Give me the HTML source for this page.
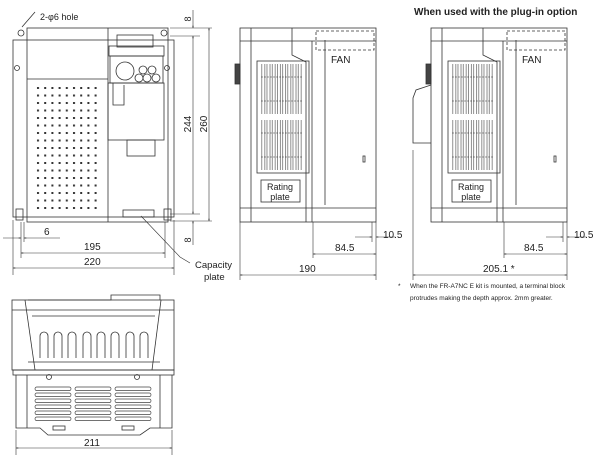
<!DOCTYPE html>
<html><head><meta charset="utf-8"><style>
html,body{margin:0;padding:0;background:#fff;}
svg{display:block;font-family:"Liberation Sans",Arial,sans-serif;}
text{fill:#222;}
</style></head><body>
<svg width="600" height="456" viewBox="0 0 600 456" xmlns="http://www.w3.org/2000/svg">
<defs>
<pattern id="dots" x="36" y="86" width="7.2" height="7.5" patternUnits="userSpaceOnUse"><rect x="1" y="1" width="2" height="2" fill="#333"/></pattern>
<pattern id="vent" x="261" y="0" width="5.2" height="200" patternUnits="userSpaceOnUse"><rect x="0.8" y="0" width="3" height="200" fill="none" stroke="#444" stroke-width="0.6"/></pattern>
<marker id="ar" viewBox="0 0 10 10" refX="10" refY="5" markerWidth="6" markerHeight="4" orient="auto-start-reverse"><path d="M0,1 L10,5 L0,9" fill="none" stroke="#333" stroke-width="1.2"/></marker>
<g id="lv" fill="none" stroke="#444" stroke-width="0.7">
<rect x="0" y="0" width="36" height="3.6" rx="1.8"/><rect x="0" y="6" width="36" height="3.6" rx="1.8"/><rect x="0" y="12" width="36" height="3.6" rx="1.8"/><rect x="0" y="18" width="36" height="3.6" rx="1.8"/><rect x="0" y="24" width="36" height="3.6" rx="1.8"/><rect x="0" y="30" width="36" height="3.6" rx="1.8"/>
</g>
</defs>
<g fill="none" stroke="#333" stroke-width="0.8">
<!-- FRONT VIEW -->
<rect x="13" y="40" width="161" height="177"/>
<rect x="27" y="28" width="141" height="194"/>
<line x1="108" y1="28" x2="108" y2="222"/>
<line x1="27" y1="79" x2="108" y2="79"/>
<rect x="35" y="85" width="66" height="128" fill="url(#dots)" stroke="none"/>
<rect x="117" y="35" width="36" height="12"/>
<rect x="109" y="46" width="55" height="10"/>
<rect x="110" y="56" width="53" height="27"/>
<circle cx="125" cy="71" r="9"/>
<circle cx="143" cy="70" r="4"/><circle cx="152" cy="70" r="4"/><circle cx="139" cy="78" r="4"/><circle cx="147" cy="78" r="4"/><circle cx="156" cy="78" r="4"/>
<rect x="108" y="83" width="56" height="57"/>
<polyline points="113,83 113,105 124,105 124,85"/>
<rect x="127" y="140" width="28" height="16"/>
<rect x="123" y="210" width="31" height="7"/>
<circle cx="21" cy="33" r="3"/><circle cx="164" cy="33" r="3"/>
<circle cx="17" cy="68" r="2.5"/><circle cx="167" cy="68" r="2.5"/>
<rect x="16" y="209" width="7" height="11"/><rect x="164" y="209" width="7" height="11"/>
<line x1="22" y1="27" x2="35" y2="12"/>
<g stroke-width="0.6">
<line x1="170" y1="28" x2="212" y2="28"/><line x1="170" y1="36" x2="200" y2="36"/>
<line x1="170" y1="214" x2="200" y2="214"/><line x1="170" y1="221" x2="212" y2="221"/>
<line x1="193" y1="10" x2="193" y2="28" marker-end="url(#ar)"/>
<line x1="193" y1="36" x2="193" y2="214" marker-start="url(#ar)" marker-end="url(#ar)"/>
<line x1="193" y1="221" x2="193" y2="245" marker-start="url(#ar)"/>
<line x1="209" y1="28" x2="209" y2="221" marker-start="url(#ar)" marker-end="url(#ar)"/>
<line x1="13" y1="220" x2="13" y2="275"/><line x1="174" y1="220" x2="174" y2="275"/>
<line x1="21" y1="222" x2="21" y2="258"/><line x1="24" y1="222" x2="24" y2="242"/><line x1="165" y1="222" x2="165" y2="258"/>
<line x1="3" y1="238" x2="21" y2="238" marker-end="url(#ar)"/><line x1="24" y1="238" x2="60" y2="238" marker-start="url(#ar)"/>
<line x1="21" y1="253" x2="165" y2="253" marker-start="url(#ar)" marker-end="url(#ar)"/>
<line x1="13" y1="268" x2="174" y2="268" marker-start="url(#ar)" marker-end="url(#ar)"/>
<polyline points="141,216 180,257 190,263"/>
</g>
<!-- SIDE VIEW 1 -->
<g id="side">
<rect x="240" y="28" width="136" height="194"/>
<line x1="251" y1="28" x2="251" y2="222"/>
<line x1="240" y1="41" x2="376" y2="41"/>
<line x1="240" y1="208" x2="376" y2="208"/>
<line x1="312" y1="41" x2="312" y2="222"/>
<polyline points="292,28 292,55 306,62 306,222"/>
<line x1="325" y1="40" x2="325" y2="205"/>
<rect x="257" y="61" width="52" height="112"/>
<rect x="261" y="64" width="42" height="50" fill="url(#vent)" stroke="none"/>
<rect x="261" y="120" width="42" height="50" fill="url(#vent)" stroke="none"/>
<line x1="261" y1="77" x2="303" y2="77" stroke-dasharray="2,1" stroke-width="0.6"/>
<line x1="261" y1="101" x2="303" y2="101" stroke-dasharray="2,1" stroke-width="0.6"/>
<line x1="261" y1="133" x2="303" y2="133" stroke-dasharray="2,1" stroke-width="0.6"/>
<line x1="261" y1="157" x2="303" y2="157" stroke-dasharray="2,1" stroke-width="0.6"/>
<rect x="261" y="180" width="39" height="22"/>
<rect x="316" y="31" width="58" height="19" stroke-dasharray="3,2"/>
<rect x="235" y="64" width="5" height="20" fill="#444"/>
<rect x="363" y="156" width="2" height="6"/>
</g>
<use href="#side" transform="translate(191,0)"/>
<polyline points="431,85 416,90 413,98 413,143 431,143"/>
<g stroke-width="0.6">
<line x1="240" y1="222" x2="240" y2="280"/><line x1="376" y1="222" x2="376" y2="280"/>
<line x1="313" y1="222" x2="313" y2="258"/><line x1="372" y1="222" x2="372" y2="242"/>
<line x1="355" y1="237" x2="372" y2="237" marker-end="url(#ar)"/><line x1="376" y1="237" x2="395" y2="237" marker-start="url(#ar)"/>
<line x1="313" y1="254" x2="376" y2="254" marker-start="url(#ar)" marker-end="url(#ar)"/>
<line x1="240" y1="275" x2="376" y2="275" marker-start="url(#ar)" marker-end="url(#ar)"/>
<line x1="413" y1="150" x2="413" y2="280"/><line x1="567" y1="222" x2="567" y2="280"/>
<line x1="504" y1="222" x2="504" y2="258"/><line x1="563" y1="222" x2="563" y2="242"/>
<line x1="546" y1="237" x2="563" y2="237" marker-end="url(#ar)"/><line x1="567" y1="237" x2="586" y2="237" marker-start="url(#ar)"/>
<line x1="504" y1="254" x2="567" y2="254" marker-start="url(#ar)" marker-end="url(#ar)"/>
<line x1="413" y1="275" x2="567" y2="275" marker-start="url(#ar)" marker-end="url(#ar)"/>
</g>
<!-- BOTTOM VIEW -->
<polyline points="28,300 111,300 111,295 160,295 160,300"/>
<rect x="12" y="300" width="162" height="70"/>
<line x1="12" y1="310" x2="174" y2="310"/>
<line x1="32" y1="316" x2="155" y2="316"/>
<line x1="25" y1="300" x2="35" y2="370"/><line x1="161" y1="300" x2="152" y2="370"/>
<path d="M40,358 V336 a4,4 0 0 1 8,0 V358 M54,358 V336 a4,4 0 0 1 8,0 V358 M68,358 V336 a4,4 0 0 1 8,0 V358 M83,358 V336 a4,4 0 0 1 8,0 V358 M97,358 V336 a4,4 0 0 1 8,0 V358 M111,358 V336 a4,4 0 0 1 8,0 V358 M126,358 V336 a4,4 0 0 1 8,0 V358 M140,358 V336 a4,4 0 0 1 8,0 V358"/>
<line x1="28" y1="362" x2="160" y2="362"/>
<rect x="13" y="370" width="161" height="5"/>
<polyline points="16,375 16,428 40,428 48,435 140,435 150,428 172,428 172,375"/>
<line x1="27" y1="375" x2="27" y2="428"/><line x1="160" y1="375" x2="160" y2="428"/>
<circle cx="49" cy="377" r="2.5"/><circle cx="137" cy="377" r="2.5"/>
<use href="#lv" x="35" y="387"/>
<use href="#lv" x="75" y="387"/>
<use href="#lv" x="115" y="387"/>
<rect x="53" y="426" width="12" height="4"/><rect x="122" y="426" width="12" height="4"/>
<g stroke-width="0.6">
<line x1="16" y1="430" x2="16" y2="455"/><line x1="172" y1="430" x2="172" y2="455"/>
<line x1="16" y1="448" x2="172" y2="448" marker-start="url(#ar)" marker-end="url(#ar)"/>
</g>
</g>
<g font-size="10">
<text x="40" y="20" font-size="9">2-φ6 hole</text>
<text x="44" y="235">6</text>
<text x="84" y="250">195</text>
<text x="84" y="265">220</text>
<text x="195" y="268" font-size="9.5">Capacity</text>
<text x="204" y="280" font-size="9.5">plate</text>
<text transform="translate(191,19) rotate(-90)" text-anchor="middle" font-size="9">8</text>
<text transform="translate(191,240) rotate(-90)" text-anchor="middle" font-size="9">8</text>
<text transform="translate(191,124) rotate(-90)" text-anchor="middle">244</text>
<text transform="translate(207,124) rotate(-90)" text-anchor="middle">260</text>
<text x="331" y="63">FAN</text>
<text x="522" y="63">FAN</text>
<text x="280" y="190" text-anchor="middle" font-size="9">Rating</text>
<text x="280" y="200" text-anchor="middle" font-size="9">plate</text>
<text x="471" y="190" text-anchor="middle" font-size="9">Rating</text>
<text x="471" y="200" text-anchor="middle" font-size="9">plate</text>
<text x="383" y="238">10.5</text>
<text x="574" y="238">10.5</text>
<text x="335" y="251">84.5</text>
<text x="524" y="251">84.5</text>
<text x="299" y="272">190</text>
<text x="483" y="272">205.1 *</text>
<text x="414" y="15" font-weight="bold" font-size="10">When used with the plug-in option</text>
<text x="398" y="288" font-size="6.5">*</text>
<text x="410" y="288" font-size="6.5">When the FR-A7NC E kit is mounted, a terminal block</text>
<text x="410" y="300" font-size="6.5">protrudes making the depth approx. 2mm greater.</text>
<text x="84" y="446">211</text>
</g>
</svg>
</body></html>
